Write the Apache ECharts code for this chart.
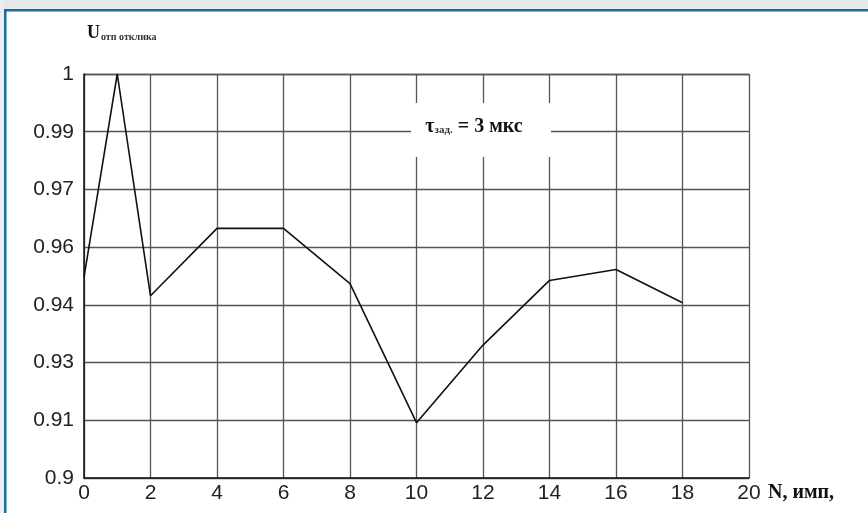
<!DOCTYPE html>
<html><head><meta charset="utf-8">
<script src="https://cdn.jsdelivr.net/npm/echarts@6/dist/echarts.min.js"></script>
<style>html,body{margin:0;padding:0;background:#fff}#c{width:868px;height:513px}</style>
</head><body><div id="c"></div>
<script>
var xValues = [0, 1, 2, 4, 6, 8, 10, 12, 14, 16, 18];
var yValues = [0.9497, 1.0, 0.9451, 0.9618, 0.9618, 0.9481, 0.9137, 0.9329, 0.9489, 0.9516, 0.9434];
var yTickLabels = ['0.9', '0.91', '0.93', '0.94', '0.96', '0.97', '0.99', '1'];
var xTickLabels = ['0', '2', '4', '6', '8', '10', '12', '14', '16', '18', '20'];

var yMin = 0.9, yStep = 0.1 / 7, yMax = yMin + 7 * yStep;
var chart = echarts.init(document.getElementById('c'));
var serif = '"Liberation Serif", "DejaVu Serif", serif';
var labelFont = '"Liberation Sans Narrow", "Liberation Sans", sans-serif';
chart.setOption({
  animation: false,
  grid: { left: 84, right: 119, top: 74, bottom: 35, show: false },
  xAxis: {
    type: 'value', min: 0, max: 20, interval: 2,
    name: 'N, имп,', nameLocation: 'end', nameGap: 19,
    nameTextStyle: { fontFamily: serif, fontWeight: 'bold', fontSize: 20, color: '#111', verticalAlign: 'top', padding: [5, 0, 0, 0] },
    axisLine: { show: true, lineStyle: { color: '#111', width: 1.5 } },
    axisTick: { show: false },
    axisLabel: { fontFamily: labelFont, fontSize: 21, color: '#222', margin: 5,
      formatter: function (v) { return xTickLabels[Math.round(v / 2)]; } },
    splitLine: { show: true, lineStyle: { color: '#555', width: 1.3 } }
  },
  yAxis: {
    type: 'value', min: yMin, max: yMax, interval: yStep,
    name: '{u|U}{s|отп отклика}', nameLocation: 'end', nameGap: 32,
    nameTextStyle: { align: 'left', padding: [0, 0, 0, 3],
      rich: { u: { fontFamily: serif, fontWeight: 'bold', fontSize: 18, color: '#111' },
              s: { fontFamily: serif, fontWeight: 'bold', fontSize: 10, color: '#333', padding: [8, 0, 0, 1] } } },
    axisLine: { show: true, lineStyle: { color: '#111', width: 1.5 } },
    axisTick: { show: false },
    axisLabel: { fontFamily: labelFont, fontSize: 21, color: '#222', margin: 10,
      formatter: function (v) { return yTickLabels[Math.round((v - yMin) / yStep)]; } },
    splitLine: { show: true, lineStyle: { color: '#555', width: 1.3 } }
  },
  series: [{
    type: 'line', symbol: 'none',
    data: xValues.map(function (x, i) { return [x, yValues[i]]; }),
    lineStyle: { color: '#111', width: 1.6 }, z: 3
  }],
  graphic: [
    { type: 'rect', shape: { x: 0, y: 0, width: 868, height: 9 }, style: { fill: '#e5e9eb' }, z: 100 },
    { type: 'rect', shape: { x: 0, y: 0, width: 4, height: 513 }, style: { fill: '#e8eef2' }, z: 100 },
    { type: 'rect', shape: { x: 4, y: 9, width: 864, height: 2.5 }, style: { fill: '#1b6f97' }, z: 101 },
    { type: 'rect', shape: { x: 4, y: 9, width: 2.5, height: 504 }, style: { fill: '#1b6f97' }, z: 101 },
    { type: 'rect', shape: { x: 411, y: 103, width: 140, height: 54 }, style: { fill: '#fff' }, z: 50 },
    { type: 'text', x: 474, y: 127, z: 51,
      style: { text: '{t|τ}{s|зад.}{n| = 3 мкс}', align: 'center', verticalAlign: 'middle',
        rich: { t: { fontFamily: serif, fontSize: 20, fontWeight: 'bold', fill: '#111' },
                s: { fontFamily: serif, fontSize: 11, fontWeight: 'bold', fill: '#333', padding: [7, 0, 0, 0] },
                n: { fontFamily: serif, fontSize: 20, fontWeight: 'bold', fill: '#111' } } } }
  ]
});
</script></body></html>
